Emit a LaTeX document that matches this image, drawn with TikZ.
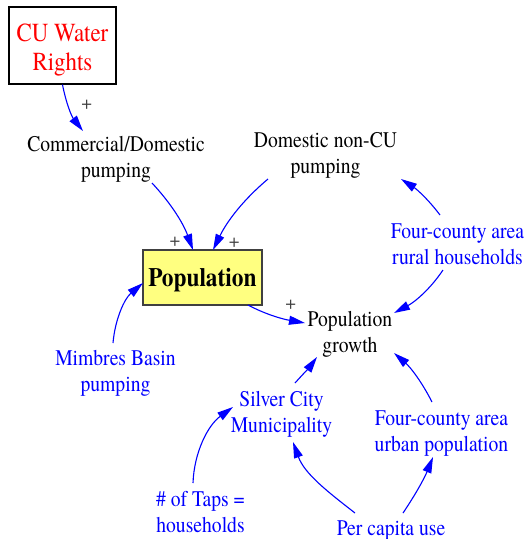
\documentclass[tikz,border=0pt]{standalone}
\usepackage{fontspec}
\usepackage{graphicx}
\setmainfont{TeX Gyre Termes}
\newcommand{\nrw}[1]{\scalebox{0.88}[1]{#1}}
\usetikzlibrary{arrows.meta,calc}
\definecolor{vblue}{RGB}{0,0,255}
\definecolor{vred}{RGB}{255,0,0}
\definecolor{vyellow}{RGB}{255,255,128}
\definecolor{vgray}{RGB}{64,64,64}
\begin{document}
\begin{tikzpicture}[x=1pt,y=-1pt,
  lbl/.style={inner sep=0pt, align=center, font=\fontsize{22.3}{26}\selectfont},
  blk/.style={lbl, text=black},
  blu/.style={lbl, text=vblue},
  arr/.style={vblue, line width=1.1pt, -{Triangle[length=16pt,width=9pt]}},
  pls/.style={inner sep=0pt, text=vgray, font=\fontsize{19}{22}\selectfont},
  cubox/.style={draw=black, fill=white, line width=1.3pt, minimum width=107pt, minimum height=77pt, inner sep=0pt, align=center, text=vred, font=\fontsize{26}{29}\selectfont},
  popbox/.style={draw=vgray, fill=vyellow, line width=1.3pt, minimum width=119pt, minimum height=55pt, inner sep=0pt, font=\bfseries\fontsize{26.5}{30}\selectfont, text height=18pt, text depth=0pt},
]
\useasboundingbox (0,0) rectangle (530,539);

\node[cubox] (cu) at (62.5,45.5) {\rule{0pt}{26pt}\nrw{CU Water}\\\nrw{Rights}\rule[-6pt]{0pt}{6pt}};
\node[blk] (comm) at (116,159.5) {\nrw{Commercial/Domestic}\strut\\\nrw{pumping}\strut};
\node[blk] (domnon) at (325.5,155.5) {\nrw{Domestic non-CU}\strut\\\nrw{pumping}\strut};
\node[popbox] (pop) at (202.5,277.5) {\nrw{Population}};
\node[blk] (growth) at (350,334) {\nrw{Population}\strut\\\nrw{growth}\strut};
\node[blu] (rural) at (457.5,246) {\nrw{Four-county area}\strut\\\nrw{rural households}\strut};
\node[blu] (mimbres) at (115.5,373) {\nrw{Mimbres Basin}\strut\\\nrw{pumping}\strut};
\node[blu] (silver) at (281.5,414.5) {\nrw{Silver City}\strut\\\nrw{Municipality}\strut};
\node[blu] (urban) at (441.5,433) {\nrw{Four-county area}\strut\\\nrw{urban population}\strut};
\node[blu] (taps) at (200.5,514.5) {\nrw{\# of Taps =}\strut\\\nrw{households}\strut};
\node[blu] (percap) at (391,530) {\nrw{Per capita use}\strut};

\node[pls] (p1) at (86.7,105) {+};
\node[pls] (p2) at (175,241.7) {+};
\node[pls] (p3) at (234.3,242.7) {+};
\node[pls] (p4) at (290.7,305) {+};

\draw[arr] (cu.south) .. controls +(3.5,18.2) and +(-11.4,-14.6) .. ($(comm.center)+(-33,-28.5)$);
\draw[arr] ($(comm.center)+(36,23.5)$) .. controls +(19.3,20.7) and +(-9.7,-26.6) .. ($(pop.center)+(-9.5,-27.5)$);
\draw[arr] ($(domnon.center)+(-57.5,23.5)$) .. controls +(-24.7,20.8) and +(14.2,-29.0) .. ($(pop.center)+(10.5,-27.5)$);
\draw[arr] ($(mimbres.center)+(-2.5,-30)$) .. controls +(2.1,-24.1) and +(-18.5,15.6) .. ($(pop.center)+(-59.5,5.5)$);
\draw[arr] ($(pop.center)+(45.5,27.5)$) .. controls +(19,10.1) and +(-21.2,-3.7) .. ($(growth.center)+(-45,-11)$);
\draw[arr] ($(rural.center)+(-17.5,-31)$) .. controls +(-11.5,-15.3) and +(16,10.4) .. ($(domnon.center)+(75.5,23.5)$);
\draw[arr] ($(rural.center)+(-14.5,24)$) .. controls +(-13.1,19.5) and +(20.7,-11) .. ($(growth.center)+(44,-21)$);
\draw[arr] ($(silver.center)+(13.5,-31.5)$) .. controls +(8.2,-9.1) and +(-7.2,9.9) .. ($(growth.center)+(-33,23)$);
\draw[arr] ($(urban.center)+(-9.5,-31)$) .. controls +(-10.1,-19.9) and +(16.8,14.6) .. ($(growth.center)+(44,19)$);
\draw[arr] ($(taps.center)+(-7.5,-31.5)$) .. controls +(1.1,-30.9) and +(-25,18.2) .. ($(silver.center)+(-48.5,-7.5)$);
\draw[arr] ($(percap.center)+(-36,-17)$) .. controls +(-26.8,-20.9) and +(11.6,32) .. ($(silver.center)+(11.5,27.5)$);
\draw[arr] ($(percap.center)+(12,-17)$) .. controls +(12.8,-19) and +(-8.6,21.2) .. ($(urban.center)+(-8.5,24)$);
\end{tikzpicture}
\end{document}
